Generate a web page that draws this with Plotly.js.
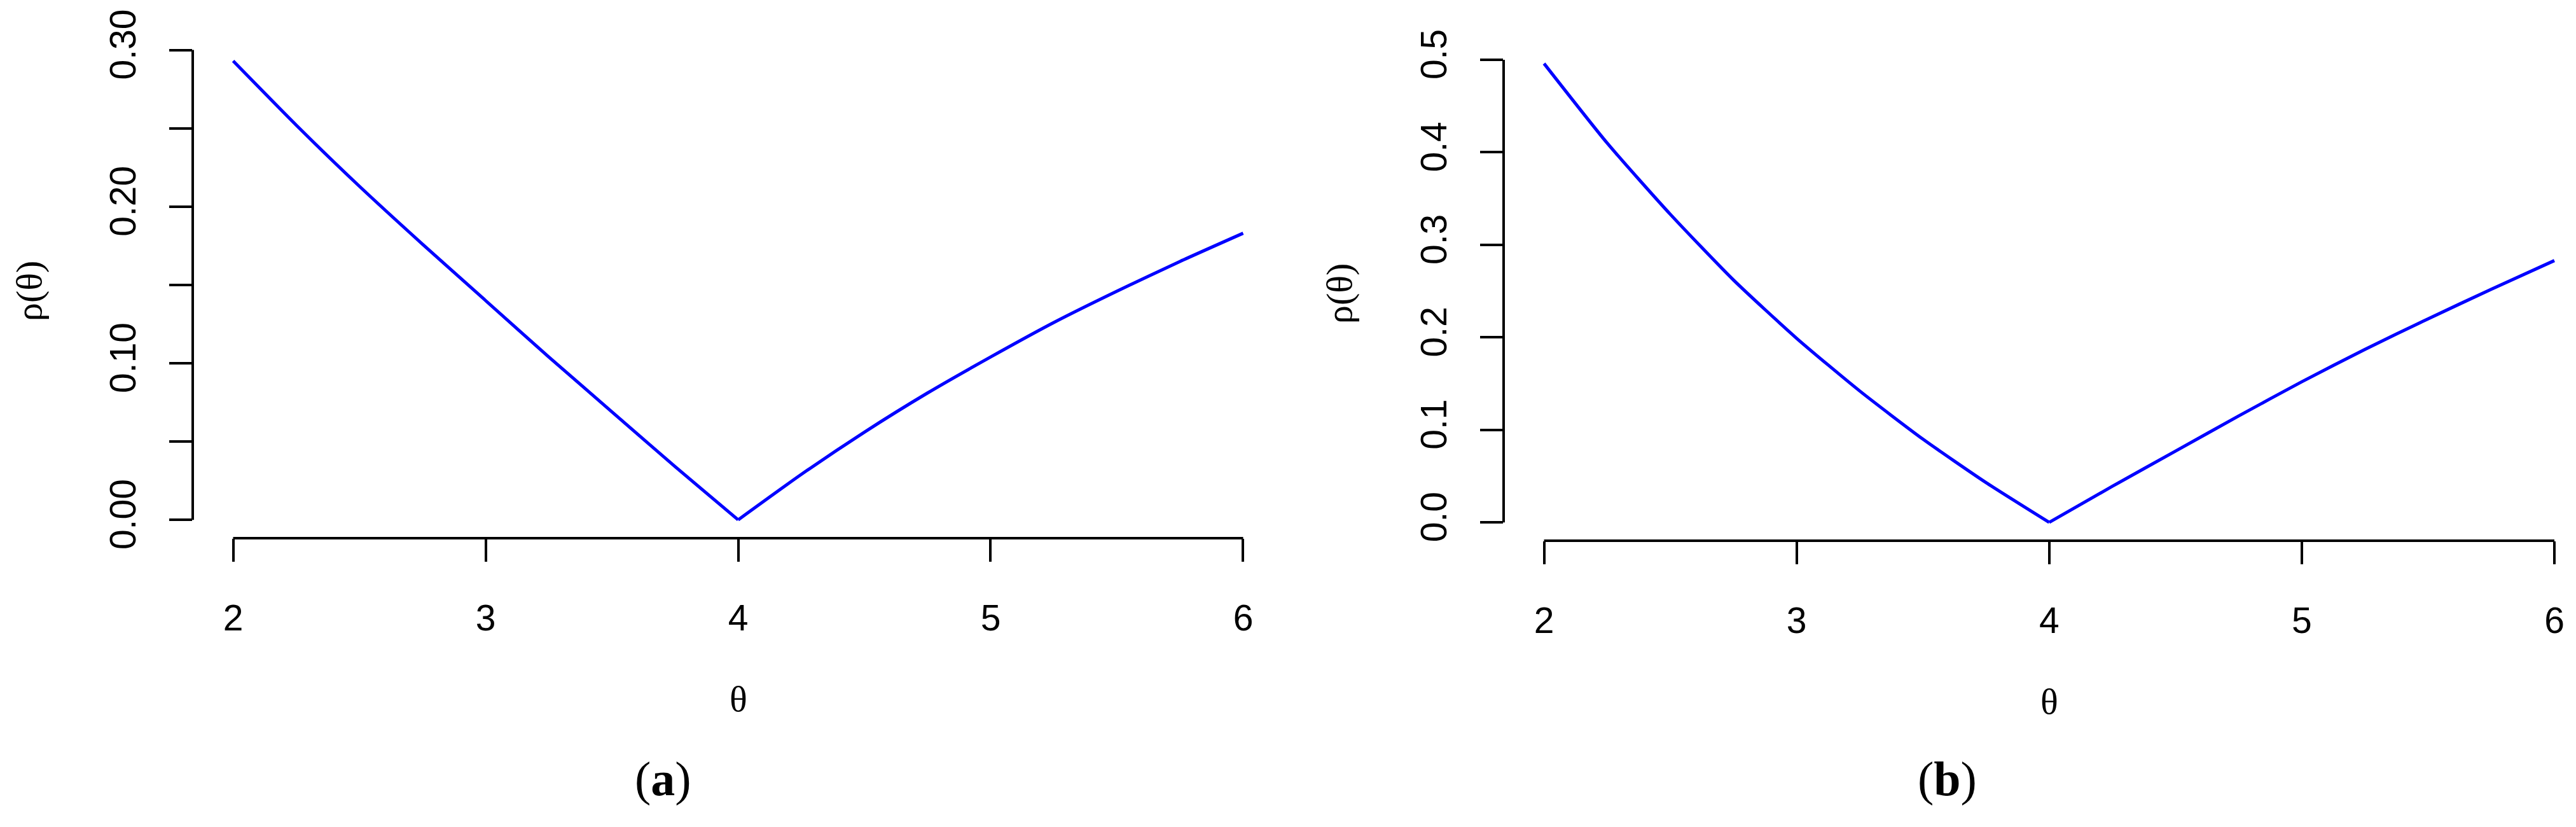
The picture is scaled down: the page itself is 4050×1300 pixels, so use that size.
<!DOCTYPE html>
<html>
<head>
<meta charset="utf-8">
<script src="https://cdn.plot.ly/plotly-3.0.1.min.js"></script>
<style>
  html, body { margin: 0; padding: 0; background: #ffffff; }
  #chart { width: 4050px; height: 1300px; }
</style>
</head>
<body>
<div id="chart"></div>
<script>
// theta grid
var theta = [2, 2.25, 2.5, 2.75, 3, 3.25, 3.5, 3.75, 4, 4.25, 4.5, 4.75, 5, 5.25, 5.5, 5.75, 6];
var theta0 = 4; // the kink of both curves

// panel (a) and (b) curves
var rhoA = [0.293, 0.252, 0.213, 0.176, 0.140, 0.104, 0.069, 0.034, 0, 0.029, 0.056, 0.081, 0.104, 0.126, 0.146, 0.165, 0.183];
var rhoB = [0.496, 0.410, 0.333, 0.262, 0.199, 0.142, 0.090, 0.043, 0, 0.039, 0.077, 0.115, 0.152, 0.187, 0.220, 0.252, 0.283];

var xTicks = [2, 3, 4, 5, 6];
var yTicksA = [0, 0.05, 0.10, 0.15, 0.20, 0.25, 0.30];
var yTextA = ['0.00', '', '0.10', '', '0.20', '', '0.30'];
var yTicksB = [0, 0.1, 0.2, 0.3, 0.4, 0.5];
var yTextB = ['0.0', '0.1', '0.2', '0.3', '0.4', '0.5'];

var W = 4050, H = 1300;
var tickFont = { family: 'Liberation Sans, Arial, sans-serif', size: 57, color: '#000000' };
var symFont = { family: 'Liberation Serif, Times New Roman, serif', size: 58, color: '#000000' };
var capFont = { family: 'Liberation Serif, Times New Roman, serif', size: 76, color: '#000000' };

// R style padding: 4% on each side of the data range
function pad(lo, hi) {
    var d = (hi - lo) * 0.04;
    return [lo - d, hi + d];
}

function xAxis(domain, range, anchor) {
    return {
        domain: domain, range: range, anchor: anchor,
        showgrid: false, zeroline: false, showline: false,
        tickmode: 'array', tickvals: xTicks, ticktext: xTicks.map(String),
        ticks: 'outside', ticklen: 36, tickwidth: 4, tickcolor: '#000000',
        tickfont: tickFont, ticklabelstandoff: 40
    };
}

function yAxis(domain, range, anchor, vals, text) {
    return {
        domain: domain, range: range, anchor: anchor,
        showgrid: false, zeroline: false, showline: false,
        tickmode: 'array', tickvals: vals, ticktext: text, tickangle: -90,
        ticks: 'outside', ticklen: 36, tickwidth: 4, tickcolor: '#000000',
        tickfont: tickFont, ticklabelstandoff: 30
    };
}

// each branch is smoothed on its own so the kink at theta0 stays sharp
function branches(ys, xa, ya) {
    var k = theta.indexOf(theta0);
    var st = { color: '#0000ff', width: 5, shape: 'spline', smoothing: 0.6 };
    return [
        { x: theta.slice(0, k + 1), y: ys.slice(0, k + 1), xaxis: xa, yaxis: ya, mode: 'lines', line: st },
        { x: theta.slice(k), y: ys.slice(k), xaxis: xa, yaxis: ya, mode: 'lines', line: st }
    ];
}

var xrA = pad(Math.min.apply(null, theta), Math.max.apply(null, theta));
var yrA = pad(0, Math.max.apply(null, rhoA));
var yrB = pad(0, Math.max.apply(null, rhoB));
// right panel is cut at the image edge
var xrB = [xrA[0], 6 + 34 / 397];

// axis lines only between first and last tick, like base R
function axisLines(xa, ya, yvals) {
    var ln = { color: '#000000', width: 4 };
    return [
        { type: 'line', xref: xa, yref: ya + ' domain', x0: xTicks[0], x1: xTicks[xTicks.length - 1], y0: 0, y1: 0, line: ln },
        { type: 'line', xref: xa + ' domain', yref: ya, x0: 0, x1: 0, y0: yvals[0], y1: yvals[yvals.length - 1], line: ln }
    ];
}

function label(text, px, py, font, angle) {
    return {
        text: text, xref: 'paper', yref: 'paper', x: px / W, y: 1 - py / H,
        xanchor: 'center', yanchor: 'middle', showarrow: false, font: font, textangle: angle || 0
    };
}

var layout = {
    width: W, height: H,
    margin: { l: 0, r: 0, t: 0, b: 0 },
    paper_bgcolor: '#ffffff', plot_bgcolor: '#ffffff',
    showlegend: false,
    xaxis: xAxis([303 / W, 2018 / W], xrA, 'y'),
    yaxis: yAxis([(H - 846) / H, (H - 67) / H], yrA, 'x', yTicksA, yTextA),
    xaxis2: xAxis([2364 / W, 1], xrB, 'y2'),
    yaxis2: yAxis([(H - 850) / H, (H - 71) / H], yrB, 'x2', yTicksB, yTextB),
    shapes: axisLines('x', 'y', yTicksA).concat(axisLines('x2', 'y2', yTicksB)),
    annotations: [
        label('ρ(θ)', 45, 458, symFont, -90),
        label('θ', 1161, 1098, symFont),
        label('(<b>a</b>)', 1042, 1224, capFont),
        label('ρ(θ)', 2105, 462, symFont, -90),
        label('θ', 3222, 1102, symFont),
        label('(<b>b</b>)', 3061, 1224, capFont)
    ]
};

var traces = branches(rhoA, 'x', 'y').concat(branches(rhoB, 'x2', 'y2'));
Plotly.newPlot('chart', traces, layout, { displayModeBar: false, staticPlot: true });
</script>
</body>
</html>
